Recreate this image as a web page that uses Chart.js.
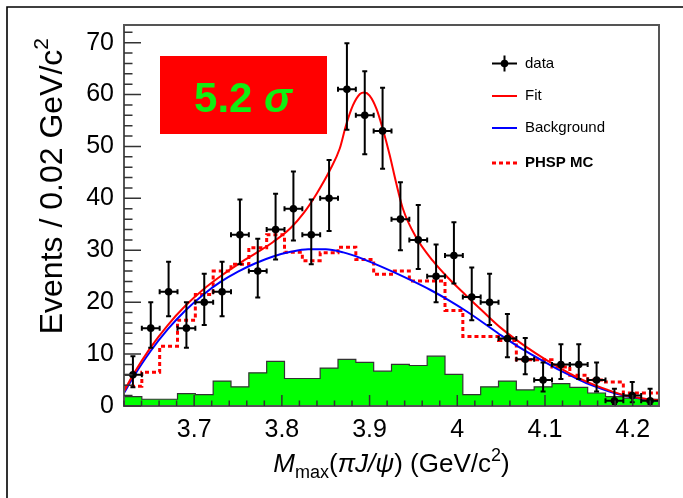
<!DOCTYPE html>
<html>
<head>
<meta charset="utf-8">
<script src="https://cdn.jsdelivr.net/npm/chart.js@4.4.0/dist/chart.umd.min.js"></script>
<style>
  html, body { margin: 0; padding: 0; background: #fff; }
</style>
</head>
<body>
<canvas id="chart" width="683" height="498"></canvas>
<script>
/* ── binning / axis ranges ── */
const xMin = 3.62, xMax = 4.23, nBins = 30;
const yMax = 73.4;

/* ── data (events per bin) with asymmetric Poisson errors ── */
const dataCounts = [6, 15, 22, 15, 20, 22, 33, 26, 34, 38, 33, 40, 61, 56, 53, 36, 32, 25, 29, 21, 20, 13, 9, 5, 8, 8, 5, 1, 2, 1];
const errUp      = [3.6, 5.0, 5.8, 5.0, 5.5, 5.8, 6.8, 6.2, 6.9, 7.2, 6.8, 7.4, 8.9, 8.5, 8.3, 7.1, 6.7, 6.1, 6.4, 5.7, 5.5, 4.7, 4.1, 3.4, 3.9, 3.9, 3.4, 2.3, 2.6, 2.3];
const errDown    = [2.4, 3.8, 4.7, 3.8, 4.4, 4.7, 5.7, 5.1, 5.8, 6.1, 5.7, 6.3, 7.8, 7.5, 7.3, 6.0, 5.6, 5.0, 5.4, 4.5, 4.4, 3.6, 2.9, 2.2, 2.8, 2.8, 2.2, 0.8, 1.3, 0.8];

/* ── green histogram (sideband) ── */
const sideband = [1.8, 1.3, 1.3, 2.4, 2.2, 4.8, 3.7, 6.4, 8.6, 5.3, 5.3, 7.3, 9.0, 8.4, 6.7, 8.0, 7.8, 9.6, 6.1, 2.2, 3.7, 4.8, 3.1, 3.7, 4.3, 3.6, 2.5, 1.8, 1.5, 1.3];

/* ── PHSP MC (red dashed histogram) ── */
const phspMC = [3.8, 6.5, 11.5, 16.5, 21.5, 26.0, 27.3, 30.5, 33.0, 29.6, 28.0, 29.5, 30.6, 28.2, 25.4, 26.0, 24.1, 24.1, 18.4, 13.4, 13.4, 12.6, 8.9, 8.9, 7.5, 5.9, 5.0, 4.6, 2.5, 2.5];

/* ── fit curve (red) ── */
const fitX = [3.620, 3.630, 3.650, 3.670, 3.690, 3.710, 3.730, 3.750, 3.770, 3.790, 3.810, 3.825, 3.840, 3.855, 3.866, 3.873, 3.881, 3.889, 3.894, 3.900, 3.908, 3.915, 3.923, 3.930, 3.938, 3.953, 3.972, 3.990, 4.010, 4.030, 4.050, 4.070, 4.090, 4.110, 4.130, 4.150, 4.170, 4.190, 4.210, 4.230];
const fitY = [2.8, 5.9, 11.2, 15.6, 19.3, 22.4, 25.0, 27.3, 29.4, 31.6, 34.3, 37.2, 41.0, 45.5, 49.6, 54.0, 57.9, 60.1, 60.4, 59.8, 57.2, 53.4, 48.3, 43.2, 38.0, 32.5, 28.0, 24.6, 21.3, 18.1, 15.0, 12.4, 10.1, 8.0, 6.1, 4.5, 3.2, 2.1, 1.5, 1.1];

/* ── background curve (blue) ── */
const bkgX = [3.620, 3.630, 3.650, 3.670, 3.690, 3.710, 3.730, 3.750, 3.770, 3.790, 3.810, 3.830, 3.850, 3.870, 3.890, 3.910, 3.930, 3.950, 3.970, 3.990, 4.010, 4.030, 4.050, 4.070, 4.090, 4.110, 4.130, 4.150, 4.170, 4.190, 4.210, 4.230];
const bkgY = [2.5, 5.4, 10.5, 14.8, 18.4, 21.4, 23.9, 25.9, 27.5, 28.8, 29.7, 30.2, 30.2, 29.6, 28.5, 27.1, 25.6, 24.0, 22.3, 20.4, 18.3, 16.0, 13.6, 11.4, 9.4, 7.5, 5.8, 4.2, 3.0, 2.0, 1.4, 1.0];

/* ── ticks ── */
const xTicks = [3.7, 3.8, 3.9, 4.0, 4.1, 4.2];
const yTicks = [0, 10, 20, 30, 40, 50, 60, 70];

const FONT = "'Liberation Sans', Arial, sans-serif";

const binW = (xMax - xMin) / nBins;
const edges = Array.from({ length: nBins + 1 }, (_, k) => xMin + k * binW);
const centers = dataCounts.map((_, k) => xMin + (k + 0.5) * binW);

/* histogram -> stepped points on bin edges */
function stepData(vals) {
  return edges.map((x, k) => ({ x, y: vals[Math.min(k, vals.length - 1)] }));
}

/* draw a row of text pieces with different fonts (align: center | right) */
function drawRuns(ctx, runs, x, y, align = 'center') {
  let w = 0;
  runs.forEach(r => { ctx.font = r.font; r.w = ctx.measureText(r.text).width; w += r.w; });
  let cx = align === 'right' ? x - w : x - w / 2;
  ctx.textAlign = 'left';
  ctx.textBaseline = 'alphabetic';
  runs.forEach(r => { ctx.font = r.font; ctx.fillText(r.text, cx, y + (r.dy || 0)); cx += r.w; });
}

/* ─────────────────────────────────────────
   plugin: error bars, frame, ticks, titles, legend
───────────────────────────────────────── */
const rootStyle = {
  id: 'rootStyle',
  afterDatasetsDraw(chart) {
    const { ctx, chartArea: a } = chart;
    const xs = chart.scales.x, ys = chart.scales.y;

    /* error bars */
    ctx.save();
    ctx.beginPath();
    ctx.rect(a.left, a.top, a.right - a.left, a.bottom - a.top);
    ctx.clip();
    ctx.strokeStyle = '#000';
    ctx.lineWidth = 2;
    dataCounts.forEach((n, k) => {
      const cx = xs.getPixelForValue(centers[k]);
      const cy = ys.getPixelForValue(n);
      const yt = ys.getPixelForValue(n + errUp[k]);
      const yb = ys.getPixelForValue(n - errDown[k]);
      const xl = xs.getPixelForValue(edges[k]);
      const xr = xs.getPixelForValue(edges[k + 1]);
      ctx.beginPath();
      ctx.moveTo(cx, yt); ctx.lineTo(cx, yb);
      ctx.moveTo(cx - 2.5, yt); ctx.lineTo(cx + 2.5, yt);
      ctx.moveTo(cx - 2.5, yb); ctx.lineTo(cx + 2.5, yb);
      ctx.moveTo(xl, cy); ctx.lineTo(xr, cy);
      ctx.moveTo(xl, cy - 2.5); ctx.lineTo(xl, cy + 2.5);
      ctx.moveTo(xr, cy - 2.5); ctx.lineTo(xr, cy + 2.5);
      ctx.stroke();
    });
    ctx.restore();

    /* frame */
    ctx.save();
    ctx.strokeStyle = '#555';
    ctx.lineWidth = 2;
    ctx.strokeRect(a.left, a.top, a.right - a.left, a.bottom - a.top);

    /* ticks (inside, ROOT style) */
    ctx.lineWidth = 1.5;
    ctx.strokeStyle = '#333';
    ctx.beginPath();
    for (let v = 0; v <= yMax; v += 2) {
      const py = ys.getPixelForValue(v);
      const len = v % 10 === 0 ? 17 : 8.5;
      ctx.moveTo(a.left, py); ctx.lineTo(a.left + len, py);
    }
    for (let i = 0; i <= 30; i++) {
      const v = 3.62 + i * 0.02;
      if (v > xMax) break;
      const px = xs.getPixelForValue(v);
      const len = (i % 5 === 4) ? 11 : 5.5;
      ctx.moveTo(px, a.bottom); ctx.lineTo(px, a.bottom - len);
    }
    ctx.stroke();

    /* outer border */
    ctx.strokeStyle = '#000';
    ctx.lineWidth = 1.6;
    ctx.beginPath();
    ctx.moveTo(7, 498); ctx.lineTo(7, 7); ctx.lineTo(683, 7);
    ctx.stroke();
    ctx.restore();
  },

  afterDraw(chart) {
    const { ctx, chartArea: a } = chart;
    ctx.save();
    ctx.fillStyle = '#000';

    /* axis titles */
    const big = `26px ${FONT}`, bigI = `italic 26px ${FONT}`, small = `18px ${FONT}`;
    drawRuns(ctx, [
      { text: 'M', font: bigI },
      { text: 'max', font: small, dy: 6 },
      { text: '(', font: big },
      { text: 'π', font: bigI },
      { text: 'J/ψ', font: bigI },
      { text: ') (GeV/c', font: big },
      { text: '2', font: small, dy: -11 },
      { text: ')', font: big }
    ], (a.left + a.right) / 2, 472);

    ctx.save();
    ctx.translate(62, 38);
    ctx.rotate(-Math.PI / 2);
    drawRuns(ctx, [
      { text: 'Events / 0.02 GeV/c', font: `32px ${FONT}` },
      { text: '2', font: `21px ${FONT}`, dy: -14 }
    ], 0, 0, 'right');
    ctx.restore();

    /* significance box */
    ctx.fillStyle = '#ff0000';
    ctx.fillRect(160, 56, 167, 78);
    ctx.fillStyle = '#11ee11';
    drawRuns(ctx, [
      { text: '5.2 ', font: `bold 42px ${FONT}` },
      { text: 'σ', font: `italic bold 42px ${FONT}` }
    ], 243, 112);

    /* legend */
    const lx0 = 492, lx1 = 517, tx = 525;
    ctx.lineWidth = 2;
    ctx.strokeStyle = '#000';
    ctx.beginPath();
    ctx.moveTo(lx0, 63.5); ctx.lineTo(lx1, 63.5);
    ctx.moveTo(504.5, 55.5); ctx.lineTo(504.5, 71.5);
    ctx.stroke();
    ctx.fillStyle = '#000';
    ctx.beginPath(); ctx.arc(504.5, 63.5, 3.8, 0, Math.PI * 2); ctx.fill();

    ctx.strokeStyle = '#ff0000';
    ctx.beginPath(); ctx.moveTo(lx0, 96); ctx.lineTo(lx1, 96); ctx.stroke();
    ctx.strokeStyle = '#0000ff';
    ctx.beginPath(); ctx.moveTo(lx0, 128); ctx.lineTo(lx1, 128); ctx.stroke();
    ctx.strokeStyle = '#ff0000';
    ctx.lineWidth = 3;
    ctx.setLineDash([4, 3]);
    ctx.beginPath(); ctx.moveTo(lx0, 163); ctx.lineTo(lx1, 163); ctx.stroke();
    ctx.setLineDash([]);

    ctx.fillStyle = '#000';
    ctx.textAlign = 'left';
    ctx.textBaseline = 'middle';
    ctx.font = `15px ${FONT}`;
    ctx.fillText('data', tx, 64);
    ctx.fillText('Fit', tx, 96);
    ctx.fillText('Background', tx, 128);
    ctx.font = `bold 15px ${FONT}`;
    ctx.fillText('PHSP MC', tx, 163);
    ctx.restore();
  }
};

new Chart(document.getElementById('chart'), {
  type: 'scatter',
  data: {
    datasets: [
      {
        label: 'data',
        data: dataCounts.map((n, k) => ({ x: centers[k], y: n })),
        pointRadius: 3.8,
        pointBackgroundColor: '#000',
        pointBorderWidth: 0,
        showLine: false
      },
      {
        label: 'Fit',
        type: 'line',
        data: fitX.map((x, k) => ({ x, y: fitY[k] })),
        borderColor: '#ff0000',
        borderWidth: 2,
        pointRadius: 0,
        cubicInterpolationMode: 'monotone',
        fill: false
      },
      {
        label: 'Background',
        type: 'line',
        data: bkgX.map((x, k) => ({ x, y: bkgY[k] })),
        borderColor: '#0000ff',
        borderWidth: 2,
        pointRadius: 0,
        cubicInterpolationMode: 'monotone',
        fill: false
      },
      {
        label: 'PHSP MC',
        type: 'line',
        data: stepData(phspMC),
        stepped: 'before',
        borderColor: '#ff0000',
        borderWidth: 3,
        borderDash: [4, 3],
        pointRadius: 0,
        fill: false
      },
      {
        label: 'sideband',
        type: 'line',
        data: stepData(sideband),
        stepped: 'before',
        borderColor: '#333',
        borderWidth: 1.2,
        backgroundColor: '#00ff00',
        pointRadius: 0,
        fill: 'origin'
      }
    ]
  },
  options: {
    responsive: false,
    animation: false,
    events: [],
    layout: { padding: { top: 22, right: 24, left: 0, bottom: 0 } },
    plugins: {
      legend: { display: false },
      tooltip: { enabled: false }
    },
    scales: {
      x: {
        type: 'linear',
        min: xMin,
        max: xMax,
        grid: { display: false, drawTicks: false },
        border: { display: false },
        afterBuildTicks: s => { s.ticks = xTicks.map(v => ({ value: v })); },
        afterFit: s => { s.height = 92; },
        ticks: {
          color: '#000',
          font: { family: FONT, size: 25 },
          padding: 9,
          maxRotation: 0,
          autoSkip: false,
          callback: v => String(+v.toFixed(1))
        }
      },
      y: {
        min: 0,
        max: yMax,
        grid: { display: false, drawTicks: false },
        border: { display: false },
        afterBuildTicks: s => { s.ticks = yTicks.map(v => ({ value: v })); },
        afterFit: s => { s.width = 124; },
        ticks: {
          color: '#000',
          font: { family: FONT, size: 25 },
          padding: 10,
          autoSkip: false,
          callback: v => String(v)
        }
      }
    }
  },
  plugins: [rootStyle]
});
</script>
</body>
</html>
